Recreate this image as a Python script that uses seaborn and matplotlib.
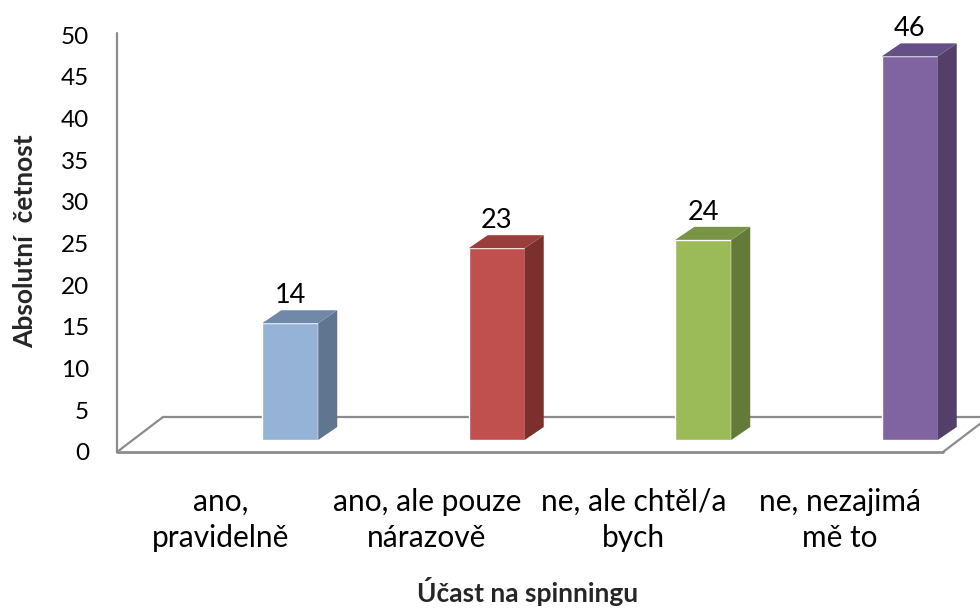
import pandas as pd
import seaborn as sns
import matplotlib.pyplot as plt
from matplotlib.patches import Polygon

# data
categories = ["ano,\npravidelně", "ano, ale pouze\nnárazově", "ne, ale chtěl/a\nbych", "ne, nezajimá\nmě to"]
counts = [14, 23, 24, 46]
front_colors = ["#95B3D7", "#C0504D", "#9BBB59", "#8064A2"]
side_colors = ["#5F7590", "#7B302E", "#647A39", "#524069"]
top_colors = ["#7189A8", "#9A3E3B", "#7A9446", "#644F86"]
y_ticks = list(range(0, 51, 5))

sns.set_theme(style="white")
plt.rcParams["font.family"] = ["Lato", "DejaVu Sans"]

W, H = 980, 613
fig = plt.figure(figsize=(W / 100, H / 100), dpi=100)

# front plane: wall, floor, ticks and axis titles
ax = fig.add_axes([117 / W, (H - 452) / H, 826 / W, 417 / H])
ax.set_xlim(-0.5, 3.5)
ax.set_ylim(0, 50)
ax.set_xticks(range(len(categories)))
ax.set_xticklabels(categories, fontsize=21.5, linespacing=1.35)
ax.set_yticks(y_ticks)
ax.set_yticklabels([str(t) for t in y_ticks], fontsize=17.5)
ax.tick_params(axis="both", length=0, colors="black")
ax.tick_params(axis="x", pad=26)
ax.tick_params(axis="y", pad=20)
sns.despine(ax=ax, left=True, bottom=True)
ax.set_facecolor("none")

px_x = 826 / 4      # pixels per category
px_y = 417 / 50     # pixels per unit
fdx, fdy = 46 / px_x, 35 / px_y   # floor depth
grey = "#8C8C8C"
ax.plot([-0.5, -0.5], [0, 50.2], color=grey, lw=1.6, clip_on=False)
ax.plot([-0.5, 3.5], [0, 0], color=grey, lw=2, clip_on=False)
ax.plot([-0.5, -0.5 + fdx], [0, fdy], color=grey, lw=1.6, clip_on=False)
ax.plot([-0.5 + fdx, 3.5 + fdx], [fdy, fdy], color=grey, lw=1.6, clip_on=False)
ax.plot([3.5, 3.5 + fdx], [0, fdy], color=grey, lw=1.6, clip_on=False)

ax.set_ylabel("Absolutní  četnost", fontsize=19, fontweight="bold")
ax.yaxis.set_label_coords(-0.097, 0.505)
ax.set_xlabel("Účast na spinningu", fontsize=19, fontweight="bold")
ax.xaxis.set_label_coords(0.497, -0.30)

# bar plane, set slightly back into the floor
bx = fig.add_axes([(117 + 70) / W, (H - 440) / H, 826 / W, 417 / H])
df = pd.DataFrame({"kategorie": categories, "pocet": counts})
sns.barplot(data=df, x="kategorie", y="pocet", hue="kategorie", palette=front_colors,
            width=0.271, saturation=1, legend=False, ax=bx)
bx.set_xlim(-0.5, 3.5)
bx.set_ylim(0, 50)
bx.axis("off")
bx.patch.set_alpha(0)

dx, dy = 19 / px_x, 13 / px_y
for p, sc, tc, n in zip(bx.patches, side_colors, top_colors, counts):
    x0, w, h = p.get_x(), p.get_width(), p.get_height()
    side = [(x0 + w, 0), (x0 + w + dx, dy), (x0 + w + dx, h + dy), (x0 + w, h)]
    top = [(x0, h), (x0 + dx, h + dy), (x0 + w + dx, h + dy), (x0 + w, h)]
    bx.add_patch(Polygon(side, closed=True, facecolor=sc, edgecolor="none", clip_on=False))
    bx.add_patch(Polygon(top, closed=True, facecolor=tc, edgecolor="none", clip_on=False))
    bx.text(x0 + w / 2, h + dy + 0.85, str(n), ha="center", va="baseline",
            fontsize=19.5, color="black", clip_on=False)

fig.savefig("out.png", dpi=100)
